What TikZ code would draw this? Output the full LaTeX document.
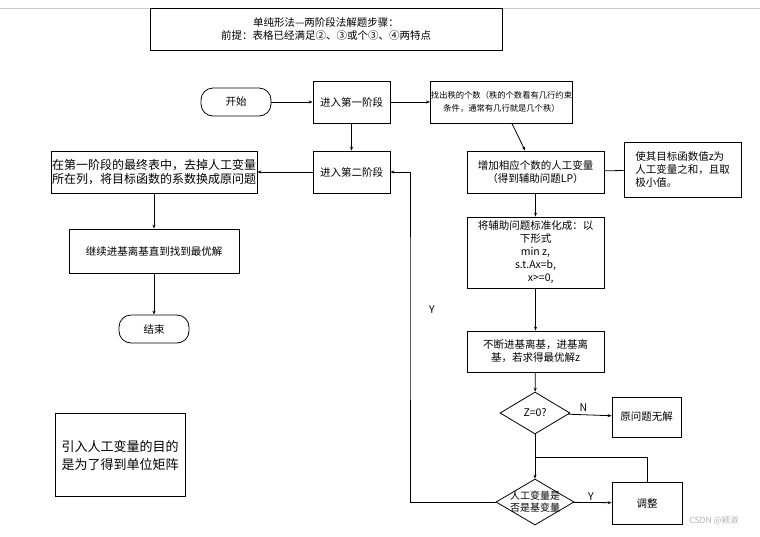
\documentclass[tikz,border=0pt]{standalone}
\usepackage{fontspec}
\setmainfont{Noto Sans CJK SC}
\usetikzlibrary{shapes.geometric,arrows.meta}
\begin{document}
\begin{tikzpicture}[x=1pt,y=-1pt,
 every node/.style={font=\fontsize{10.5}{13}\selectfont},
 box/.style={draw,thick,inner sep=1pt,align=center},
 term/.style={draw,thick,rounded corners=12pt},
 dia/.style={draw,thick,diamond,aspect=1.67,inner sep=0pt,align=center},
 arr/.style={thick,-{Stealth[length=4pt,width=3pt]}},
 ln/.style={thick}]
\useasboundingbox (0,0) rectangle (760,536);
\draw[gray!40] (0,8)--(760,8);
\node[box,minimum width=352,minimum height=42] (title) at (326,29) {单纯形法—两阶段法解题步骤：\\前提：表格已经满足②、③或个③、④两特点};
\node[term,minimum width=70,minimum height=28] (start) at (236,102) {开始};
\node[box,minimum width=77,minimum height=42] (p1) at (351.5,102) {进入第一阶段};
\node[box,minimum width=139,minimum height=42,inner sep=0.5pt,font=\fontsize{8.3}{13}\selectfont] (rank) at (501.5,102) {找出秩的个数（秩的个数看有几行约束\\条件，通常有几行就是几个秩）};
\node[box,minimum width=77,minimum height=42] (p2) at (351.5,172) {进入第二阶段};
\node[box,minimum width=206,minimum height=42,align=left,font=\fontsize{12}{14}\selectfont] (rm) at (154,172) {在第一阶段的最终表中，去掉人工变量\\所在列，将目标函数的系数换成原问题};
\node[box,minimum width=170,minimum height=44] (cont) at (154,251) {继续进基离基直到找到最优解};
\node[term,minimum width=70,minimum height=28] (end) at (154,329) {结束};
\node[box,minimum width=137,minimum height=42] (add) at (535.5,172) {增加相应个数的人工变量\\（得到辅助问题LP）};
\node[box,minimum width=117,minimum height=55,align=left] (obj) at (682.5,169.5) {使其目标函数值z为\\人工变量之和，且取\\极小值。};
\node[box,minimum width=137,minimum height=71] (std) at (535.5,252.5) {将辅助问题标准化成：以\\下形式\\min z,\\s.t.Ax=b,\\\quad x>=0,};
\node[box,minimum width=137,minimum height=41] (iter) at (535.5,351.5) {不断进基离基，进基离\\基，若求得最优解z};
\node[dia,minimum width=70,minimum height=42] (z0) at (535,413) {Z=0?};
\node[box,minimum width=69,minimum height=40] (none) at (646.5,417) {原问题无解};
\node[dia,minimum width=78,minimum height=46,inner sep=-3pt,font=\fontsize{10}{12}\selectfont] (base) at (535,502) {人工变量是\\否是基变量};
\node[box,minimum width=70,minimum height=42] (adj) at (647,503) {调整};
\node[box,minimum width=130,minimum height=83,font=\fontsize{13}{18}\selectfont,align=left] (note) at (120,455) {引入人工变量的目的\\是为了得到单位矩阵};
\node[text=gray!60,font=\fontsize{8.5}{10}\selectfont] (wm) at (714,521) {CSDN @颖淑};
\coordinate (m) at (535,457);
\draw[arr] (start)--(p1);
\draw[arr] (p1)--(rank);
\draw[arr] (p1)--(p2);
\draw[arr] (p2)--(rm);
\draw[arr] (rm)--(cont);
\draw[arr] (cont)--(end);
\draw[arr] (rank)--(add);
\draw[ln] (add)--(obj);
\draw[arr] (add)--(std);
\draw[arr] (std)--(iter);
\draw[arr] (iter)--(z0);
\draw[arr] (z0)--node[above,pos=0.35]{N}(none);
\draw[arr] (z0)--(base);
\draw[ln] (adj.north)|-(m);
\draw[arr] (base)--node[above,pos=0.45,yshift=-2]{Y}(adj);
\draw[arr] (base.west)-|(410,300)|-(p2.east);
\node (y1) at (432,310) {Y};
\end{tikzpicture}
\end{document}
